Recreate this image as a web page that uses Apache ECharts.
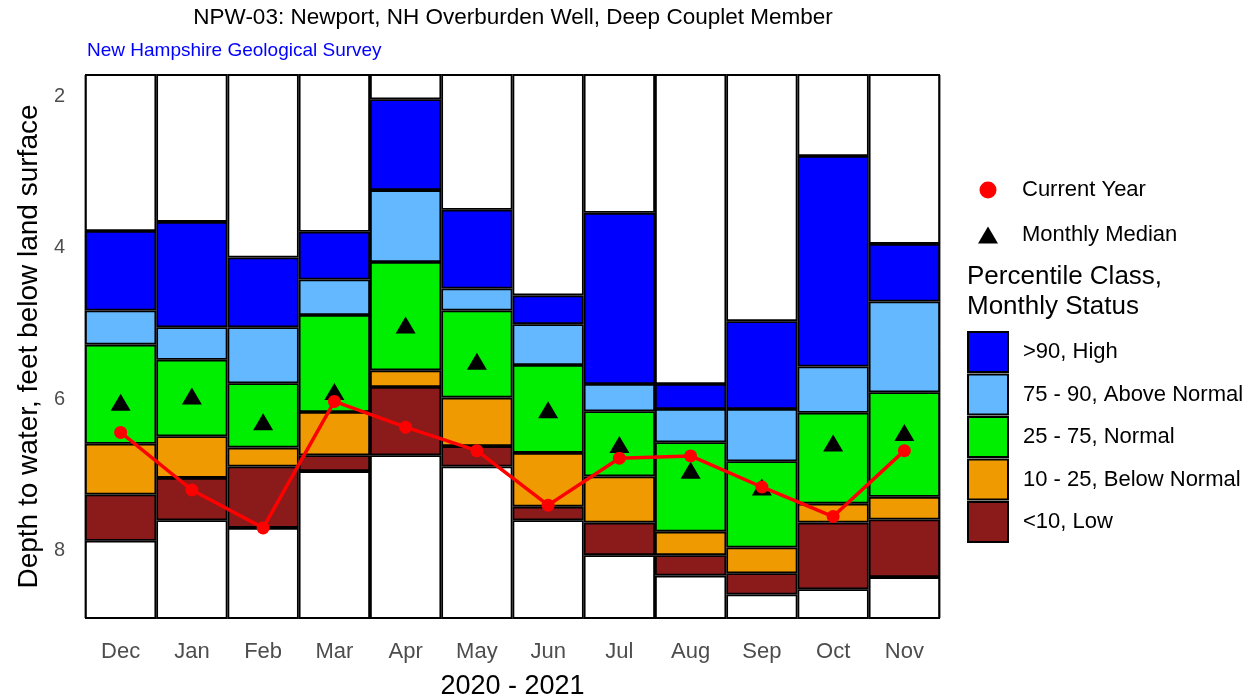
<!DOCTYPE html>
<html>
<head>
<meta charset="utf-8">
<script src="https://cdn.jsdelivr.net/npm/echarts@6/dist/echarts.min.js"></script>
<style>
html, body { margin: 0; padding: 0; background: #fff; }
#chart { width: 1252px; height: 700px; }
</style>
</head>
<body>
<div id="chart"></div>
<script>
// month labels, Dec 2020 - Nov 2021
var months = ['Dec', 'Jan', 'Feb', 'Mar', 'Apr', 'May', 'Jun', 'Jul', 'Aug', 'Sep', 'Oct', 'Nov'];

// depth to water (ft) at the class boundaries, shallow to deep
var recTop = [3.78, 3.66, 4.13, 3.79, 2.04, 3.50, 4.63, 3.54, 5.80, 4.97, 2.79, 3.95];
var p90 = [4.83, 5.05, 5.05, 4.42, 3.24, 4.54, 5.01, 5.80, 6.13, 6.13, 5.57, 4.71];
var p75 = [5.28, 5.48, 5.79, 4.89, 4.19, 4.83, 5.55, 6.16, 6.57, 6.82, 6.18, 5.91];
var p25 = [6.59, 6.49, 6.64, 6.17, 5.62, 5.98, 6.71, 7.02, 7.75, 7.96, 7.38, 7.29];
var p10 = [7.26, 7.04, 6.89, 6.74, 5.84, 6.62, 7.42, 7.63, 8.06, 8.30, 7.63, 7.59];
var recBottom = [7.87, 7.60, 7.70, 6.95, 6.74, 6.89, 7.60, 8.06, 8.33, 8.58, 8.51, 8.35];

var medianDepth = [6.04, 5.96, 6.30, 5.90, 5.02, 5.50, 6.14, 6.60, 6.94, 7.16, 6.58, 6.44];
var currentDepth = [6.44, 7.20, 7.70, 6.03, 6.37, 6.68, 7.40, 6.78, 6.75, 7.16, 7.55, 6.68];

var classNames = ['>90, High', '75 - 90, Above Normal', '25 - 75, Normal', '10 - 25, Below Normal', '<10, Low'];
var classColors = ['#0000FF', '#63B8FF', '#00EE00', '#EE9A00', '#8B1A1A'];

var yMin = 1.72, yMax = 8.89;

function diff(a, b) {
    return a.map(function (v, i) { return +(b[i] - v).toFixed(3); });
}

var myChart = echarts.init(document.getElementById('chart'));

var barStyle = function (c) {
    return { color: c, borderColor: '#000', borderWidth: 1.8 };
};

var bounds = [recTop, p90, p75, p25, p10, recBottom];
var series = [];
series.push({
    name: 'topWhite', type: 'bar', stack: 'pct', data: recTop.slice(),
    itemStyle: barStyle('#fff'), barWidth: '100%', barCategoryGap: 0, silent: true
});
for (var k = 0; k < 5; k++) {
    series.push({
        name: classNames[k], type: 'bar', stack: 'pct', data: diff(bounds[k], bounds[k + 1]),
        itemStyle: barStyle(classColors[k]), barWidth: '100%'
    });
}
series.push({
    name: 'bottomWhite', type: 'bar', stack: 'pct',
    data: recBottom.map(function (v) { return +(yMax + 1 - v).toFixed(3); }),
    itemStyle: barStyle('#fff'), barWidth: '100%', silent: true
});
series.push({
    name: 'Monthly Median', type: 'scatter', data: medianDepth,
    symbol: 'triangle', symbolSize: [20, 17],
    itemStyle: { color: '#000', opacity: 1 }, z: 5
});
series.push({
    name: 'Current Year', type: 'line', data: currentDepth,
    symbol: 'circle', symbolSize: 13, showSymbol: true,
    lineStyle: { color: '#FF0000', width: 3.5 },
    itemStyle: { color: '#FF0000' }, z: 6
});

var option = {
    animation: false,
    textStyle: { fontFamily: 'Liberation Sans, Arial, sans-serif' },
    grid: {
        left: 85, right: 312, top: 75, bottom: 82,
        outerBoundsMode: 'none', containLabel: false,
        show: true, borderColor: '#333', borderWidth: 1, backgroundColor: '#fff'
    },
    graphic: [
        {
            type: 'text', x: 513, y: 6,
            style: { text: 'NPW-03: Newport, NH Overburden Well, Deep Couplet Member', fontSize: 22.5, fill: '#000', textAlign: 'center', fontFamily: 'Liberation Sans, Arial, sans-serif' }
        },
        {
            type: 'text', x: 87, y: 41,
            style: { text: 'New Hampshire Geological Survey', fontSize: 19, fill: '#0000FF', fontFamily: 'Liberation Sans, Arial, sans-serif' }
        },
        {
            type: 'text', x: 967, y: 262,
            style: { text: 'Percentile Class,\nMonthly Status', fontSize: 26, lineHeight: 30, fill: '#000', fontFamily: 'Liberation Sans, Arial, sans-serif' }
        }
    ],
    legend: [
        {
            orient: 'vertical', left: 978, top: 179, padding: 0,
            itemWidth: 20, itemHeight: 17, itemGap: 23,
            textStyle: { fontSize: 22, color: '#000', padding: [0, 0, 0, 19] },
            data: [{ name: 'Current Year', icon: 'circle' }, { name: 'Monthly Median', icon: 'triangle' }]
        },
        {
            orient: 'vertical', left: 967, top: 331, padding: 0,
            itemWidth: 40, itemHeight: 40, itemGap: 0.5,
            textStyle: { fontSize: 22, color: '#000', padding: [0, 0, 0, 10] },
            icon: 'rect',
            data: classNames
        }
    ],
    xAxis: {
        type: 'category', data: months,
        axisLine: { show: false }, axisTick: { show: false },
        axisLabel: { color: '#4d4d4d', fontSize: 22, margin: 23 },
        name: '2020 - 2021', nameLocation: 'middle', nameGap: 55,
        nameTextStyle: { fontSize: 27, color: '#000' }
    },
    yAxis: {
        type: 'value', inverse: true, min: yMin, max: yMax, splitNumber: 3,
        axisLine: { show: false }, axisTick: { show: false }, splitLine: { show: false },
        axisLabel: { color: '#4d4d4d', fontSize: 20, margin: 20, showMinLabel: false, showMaxLabel: false },
        name: 'Depth to water, feet below land surface', nameLocation: 'middle', nameGap: 40,
        nameTextStyle: { fontSize: 28, color: '#000' }
    },
    series: series
};
myChart.setOption(option);

window.addEventListener('resize', function () {
    myChart.resize();
});
</script>
</body>
</html>
